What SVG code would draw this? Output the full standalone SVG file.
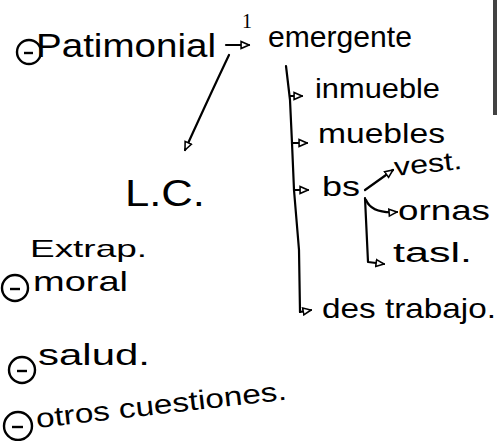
<svg xmlns="http://www.w3.org/2000/svg" width="498" height="441" viewBox="0 0 498 441">
<style>
.t{font-family:"Liberation Sans","DejaVu Sans",sans-serif;fill:#000}
.c{fill:none;stroke:#000;stroke-width:2.2;stroke-linecap:round;stroke-linejoin:round}
.m{fill:none;stroke:#000;stroke-width:2.4}
</style>
<defs>
<marker id="ah" viewBox="0 0 10 10" refX="9" refY="5" markerWidth="4.5" markerHeight="4.5" orient="auto" markerUnits="strokeWidth">
<path d="M1,1.5 L9,5 L1,8.5 Z" fill="#fff" stroke="#000" stroke-width="1.6"/>
</marker>
</defs>
<rect width="498" height="441" fill="#fff"/>
<line x1="495" y1="0" x2="495" y2="115" stroke="#222" stroke-width="4" opacity="0.85"/>

<g id="patrimonial">
<circle class="m" cx="29" cy="52" r="12"/><line class="m" x1="24" y1="53" x2="33" y2="53"/>
<text class="t" x="36" y="57" font-size="34" textLength="180" lengthAdjust="spacingAndGlyphs">Patimonial</text>
</g>
<g id="num1"><text x="242" y="28" font-family="Liberation Serif,serif" font-size="20">1</text></g>
<g id="emergente"><text class="t" x="268" y="47" font-size="29" textLength="144" lengthAdjust="spacingAndGlyphs">emergente</text></g>
<g id="inmueble"><text class="t" x="315" y="98" font-size="28" textLength="125" lengthAdjust="spacingAndGlyphs">inmueble</text></g>
<g id="muebles"><text class="t" x="318" y="143" font-size="28" textLength="127" lengthAdjust="spacingAndGlyphs">muebles</text></g>
<g id="bs"><text class="t" x="322" y="196" font-size="28" textLength="38" lengthAdjust="spacingAndGlyphs">bs</text></g>
<g id="vest"><text class="t" x="395" y="176" font-size="26" textLength="68" lengthAdjust="spacingAndGlyphs" transform="rotate(-6 395 176)">vest.</text></g>
<g id="ornas"><text class="t" x="398" y="220" font-size="27" textLength="92" lengthAdjust="spacingAndGlyphs">ornas</text></g>
<g id="tasl"><text class="t" x="393" y="262" font-size="27" textLength="79" lengthAdjust="spacingAndGlyphs">tasl.</text></g>
<g id="trabajo"><text class="t" x="322" y="318" font-size="28" textLength="174" lengthAdjust="spacingAndGlyphs">des trabajo.</text></g>
<g id="lc"><text class="t" x="125" y="206" font-size="36" textLength="80" lengthAdjust="spacingAndGlyphs">L.C.</text></g>
<g id="extrap"><text class="t" x="30" y="257" font-size="24" textLength="117" lengthAdjust="spacingAndGlyphs">Extrap.</text></g>
<g id="moral">
<circle class="m" cx="15" cy="288" r="13"/><line class="m" x1="10" y1="289" x2="20" y2="289"/>
<text class="t" x="33" y="291" font-size="28" textLength="95" lengthAdjust="spacingAndGlyphs">moral</text>
</g>
<g id="salud">
<circle class="m" cx="22" cy="370" r="13"/><line class="m" x1="17" y1="371" x2="27" y2="371"/>
<text class="t" x="38" y="365" font-size="30" textLength="112" lengthAdjust="spacingAndGlyphs">salud.</text>
</g>
<g id="otros">
<circle class="m" cx="18" cy="426" r="14"/><line class="m" x1="12" y1="427" x2="23" y2="427"/>
<text class="t" x="37" y="428" font-size="27" textLength="252" lengthAdjust="spacingAndGlyphs" transform="rotate(-6.5 37 428)">otros cuestiones.</text>
</g>

<g id="connectors">
<path class="c" d="M226,45 L249,45" marker-end="url(#ah)"/>
<path class="c" d="M229,55 Q210,95 185,150" marker-end="url(#ah)"/>
<path class="c" d="M286,66 L290,100 L292,143 L294,190 L299,250 L300,312"/>
<path class="c" d="M290,96 L302,96" marker-end="url(#ah)"/>
<path class="c" d="M292,143 L307,143" marker-end="url(#ah)"/>
<path class="c" d="M294,190 L308,190" marker-end="url(#ah)"/>
<path class="c" d="M300,312 L311,310" marker-end="url(#ah)"/>
<path class="c" d="M365,190 L393,170" marker-end="url(#ah)"/>
<path class="c" d="M365,198 L368,262 L384,264" marker-end="url(#ah)"/>
<path class="c" d="M366,200 Q372,214 397,212" marker-end="url(#ah)"/>
</g>
</svg>
